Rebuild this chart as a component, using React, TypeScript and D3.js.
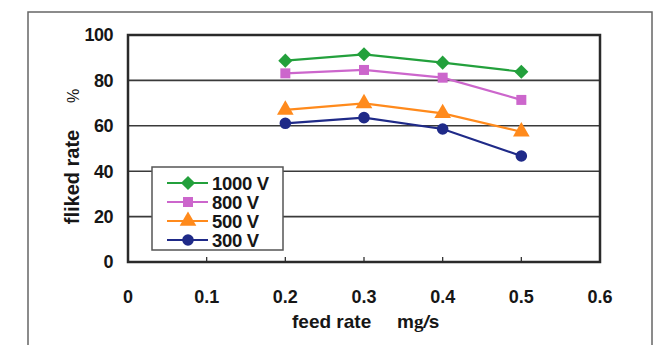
import * as d3 from "d3";

// values
const feedRates = [0.2, 0.3, 0.4, 0.5];
const xTicks = [0, 0.1, 0.2, 0.3, 0.4, 0.5, 0.6];
const yTicks = [0, 20, 40, 60, 80, 100];
const seriesNames = ["1000 V", "800 V", "500 V", "300 V"];
const v1000 = [88.7, 91.5, 87.8, 83.8];
const v800 = [83.1, 84.6, 81.2, 71.4];
const v500 = [67.0, 69.9, 65.5, 57.4];
const v300 = [61.1, 63.6, 58.6, 46.7];

const colors = ["#23a03c", "#cc66cc", "#ff8a1c", "#1f2a88"];
const shapes = [d3.symbolSquare, d3.symbolSquare, d3.symbolTriangle, d3.symbolCircle];
const sizes = [100, 100, 120, 105];
const rotations = [45, 0, 0, 0];

export default function App() {
  const width = 667;
  const height = 345;
  const left = 128, right = 600, top = 35, bottom = 262;

  const x = d3.scaleLinear().domain([0, 0.6]).range([left, right]);
  const y = d3.scaleLinear().domain([0, 100]).range([bottom, top]);

  const allValues = [v1000, v800, v500, v300];
  const line = d3.line<number>()
    .x((_, i) => x(feedRates[i]))
    .y(d => y(d));

  const font = "'Liberation Sans', Arial, sans-serif";
  const ink = "#161616";

  // legend box
  const lg = { x: 152, y: 167, w: 131, h: 83 };

  const marker = (si: number, cx: number, cy: number, key?: number) => (
    <path key={key} transform={`translate(${cx},${cy}) rotate(${rotations[si]})`} d={d3.symbol(shapes[si], sizes[si])() ?? ""} fill={colors[si]} />
  );

  return (
    <svg width={width} height={height} style={{ position: "absolute", left: 0, top: 0, background: "#fff" }} fontFamily={font}>
      {/* outer frame */}
      <rect x={28} y={12} width={624} height={360} fill="none" stroke="#666" strokeWidth={1.5} />

      {/* gridlines */}
      {yTicks.filter(t => t > 0 && t < 100).map(t => (
        <line key={t} x1={left} x2={right} y1={y(t)} y2={y(t)} stroke="#3a3a3a" strokeWidth={1.6} />
      ))}

      {/* x ticks inside */}
      {xTicks.filter(t => t > 0 && t < 0.6).map(t => (
        <line key={t} x1={x(t)} x2={x(t)} y1={bottom} y2={bottom - 5} stroke="#333" strokeWidth={1.3} />
      ))}

      {/* plot border */}
      <rect x={left} y={top} width={right - left} height={bottom - top} fill="none" stroke="#2a2a2a" strokeWidth={2.5} />

      {/* y tick labels */}
      {yTicks.map(t => (
        <text key={t} x={113} y={y(t)} dy="0.36em" textAnchor="end" fontSize={18} fontWeight="bold" fill={ink} letterSpacing={-0.5}>{t}</text>
      ))}

      {/* x tick labels */}
      {xTicks.map(t => (
        <text key={t} x={x(t)} y={297} dy="0.36em" textAnchor="middle" fontSize={18} fontWeight="bold" fill={ink}>{t === 0 ? "0" : d3.format(".1f")(t)}</text>
      ))}

      {/* axis titles */}
      <text x={292} y={321} dy="0.36em" fontSize={19} fontWeight="bold" fill={ink}>feed rate</text>
      <text x={397} y={321} dy="0.36em" fontSize={19} fontWeight="bold" fill={ink}>
        m<tspan fontFamily="'Liberation Serif', serif">g</tspan><tspan fontStyle="italic">/</tspan>s
      </text>
      <text transform="translate(72,177) rotate(-90)" dy="0.36em" textAnchor="middle" fontSize={20} fontWeight="bold" fill={ink}>fliked rate</text>
      <text transform="translate(73,96) rotate(-90)" dy="0.36em" textAnchor="middle" fontSize={16} fill={ink}>%</text>

      {/* series */}
      {allValues.map((vals, si) => (
        <g key={si}>
          <path d={line(vals) ?? ""} fill="none" stroke={colors[si]} strokeWidth={2.2} />
          {vals.map((v, i) => marker(si, x(feedRates[i]), y(v), i))}
        </g>
      ))}

      {/* legend */}
      <rect x={lg.x} y={lg.y} width={lg.w} height={lg.h} fill="#fff" stroke="#555" strokeWidth={1.5} />
      {seriesNames.map((name, i) => {
        const ly = 183 + i * 19;
        return (
          <g key={name}>
            <line x1={167} x2={208} y1={ly} y2={ly} stroke={colors[i]} strokeWidth={2.2} />
            {marker(i, 188, ly)}
            <text x={212} y={ly} dy="0.36em" fontSize={18.5} fontWeight="bold" fill={ink} letterSpacing={-0.3}>{name}</text>
          </g>
        );
      })}
    </svg>
  );
}
